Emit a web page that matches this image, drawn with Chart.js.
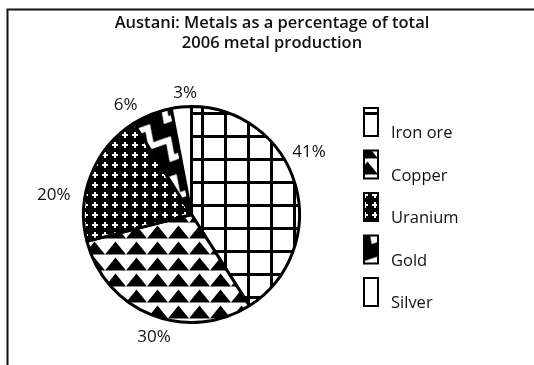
<!DOCTYPE html>
<html>
<head>
<meta charset="utf-8">
<title>Austani metal production 2006</title>
<script src="https://cdn.jsdelivr.net/npm/chart.js@4.4.1/dist/chart.umd.min.js"></script>
<style>
  html, body { margin: 0; padding: 0; background: #fff; }
  canvas { display: block; }
</style>
</head>
<body>
<canvas id="metalChart" width="534" height="365"></canvas>
<script>
const metals = ["Iron ore", "Copper", "Uranium", "Gold", "Silver"];
const shares = [41, 30, 20, 6, 3];
const titleLines = ["Austani: Metals as a percentage of total", "2006 metal production"];

// where each percentage sits: angle (deg, clockwise from top) and distance from centre
const labelSpots = [[62, 133], [197, 128], [278, 139], [329, 128], [357, 122]];

const FONT = '"Open Sans", "Noto Sans", sans-serif';

function makePattern(w, h, draw, angle) {
  const c = document.createElement("canvas");
  c.width = w;
  c.height = h;
  const g = c.getContext("2d");
  draw(g, w, h);
  const p = g.createPattern(c, "repeat");
  if (angle) p.setTransform(new DOMMatrix().rotate(angle));
  return p;
}

// grid for iron ore
const gridFill = makePattern(23, 23, (g, w, h) => {
  g.fillStyle = "#fff"; g.fillRect(0, 0, w, h);
  g.fillStyle = "#000";
  g.fillRect(17, 0, 3, h);
  g.fillRect(0, 20, w, 3);
});

// rows of triangles for copper
const triFill = makePattern(21, 16, (g, w, h) => {
  g.fillStyle = "#fff"; g.fillRect(0, 0, w, h);
  g.fillStyle = "#000";
  g.beginPath();
  g.moveTo(0, 14.5); g.lineTo(10.5, 1.5); g.lineTo(21, 14.5);
  g.closePath();
  g.fill();
});

// white crosses on black for uranium
const dotFill = makePattern(10, 10, (g, w, h) => {
  g.fillStyle = "#000"; g.fillRect(0, 0, w, h);
  g.fillStyle = "#fff";
  g.fillRect(4, 2, 2, 6);
  g.fillRect(2, 4, 6, 2);
});

// wide white zigzag on black for gold
const zigFill = makePattern(24, 30, (g, w, h) => {
  g.fillStyle = "#000"; g.fillRect(0, 0, w, h);
  g.strokeStyle = "#fff";
  g.lineWidth = 6;
  g.lineJoin = "miter";
  g.beginPath();
  g.moveTo(-12, 21); g.lineTo(0, 7); g.lineTo(12, 21); g.lineTo(24, 7); g.lineTo(36, 21);
  g.stroke();
}, 30);

const fills = [gridFill, triFill, dotFill, zigFill, "#fff"];

const decorations = {
  id: "decorations",
  beforeDraw(chart) {
    const ctx = chart.ctx;
    ctx.save();
    ctx.fillStyle = "#fff";
    ctx.fillRect(0, 0, chart.width, chart.height);
    // frame: top and left edges only
    ctx.strokeStyle = "#111";
    ctx.lineWidth = 2;
    ctx.beginPath();
    ctx.moveTo(7.5, chart.height);
    ctx.lineTo(7.5, 9.5);
    ctx.lineTo(chart.width, 9.5);
    ctx.stroke();
    // title
    ctx.fillStyle = "#111";
    ctx.font = "600 16.5px " + FONT;
    ctx.textAlign = "center";
    ctx.textBaseline = "alphabetic";
    ctx.fillText(titleLines[0], 272, 28);
    ctx.fillText(titleLines[1], 272, 48);
    ctx.restore();
  },
  afterDatasetsDraw(chart) {
    const ctx = chart.ctx;
    const arc = chart.getDatasetMeta(0).data[0];
    ctx.save();
    ctx.fillStyle = "#111";
    ctx.font = "17px " + FONT;
    ctx.textAlign = "center";
    ctx.textBaseline = "middle";
    shares.forEach((v, i) => {
      const a = labelSpots[i][0] * Math.PI / 180;
      const d = labelSpots[i][1];
      ctx.fillText(v + "%", arc.x + d * Math.sin(a), arc.y - d * Math.cos(a));
    });

    // legend
    ctx.font = "16.5px " + FONT;
    ctx.textAlign = "left";
    ctx.textBaseline = "alphabetic";
    metals.forEach((m, i) => {
      const top = 108 + i * 42.5;
      ctx.fillStyle = fills[i];
      ctx.fillRect(364, top, 14, 28);
      ctx.strokeStyle = "#000";
      ctx.lineWidth = 2;
      ctx.strokeRect(364, top, 14, 28);
      ctx.fillStyle = "#111";
      ctx.fillText(m, 391, top + 30);
    });
    ctx.restore();
  }
};

new Chart(document.getElementById("metalChart"), {
  type: "pie",
  data: {
    labels: metals,
    datasets: [{
      data: shares,
      backgroundColor: fills,
      borderColor: "#000",
      borderWidth: 3
    }]
  },
  options: {
    responsive: false,
    animation: false,
    layout: { padding: { left: 82, right: 233, top: 105, bottom: 41 } },
    plugins: {
      legend: { display: false },
      title: { display: false },
      tooltip: { enabled: false }
    }
  },
  plugins: [decorations]
});
</script>
</body>
</html>
